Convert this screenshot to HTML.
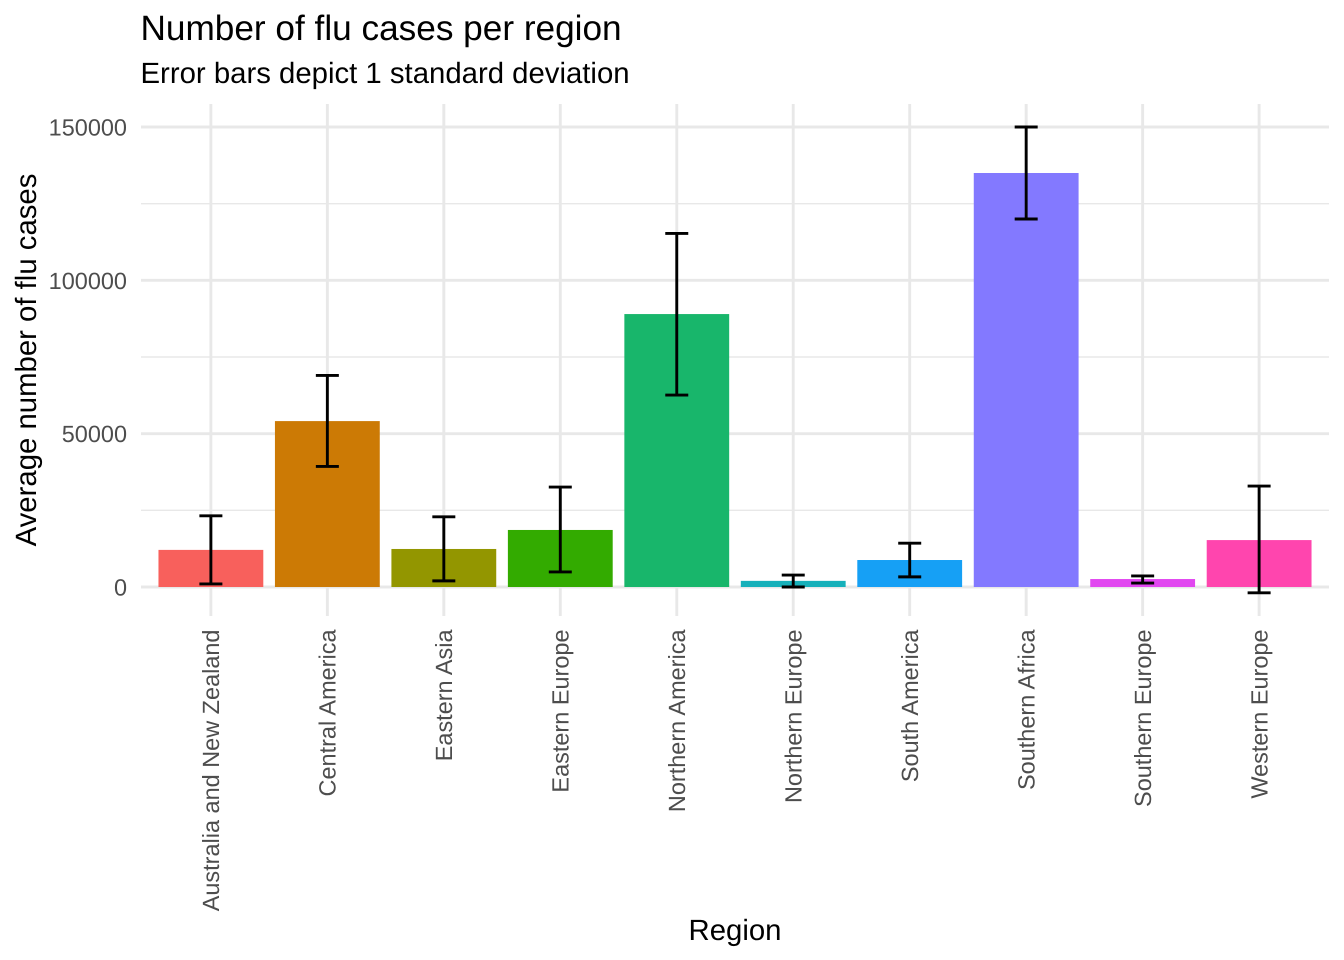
<!DOCTYPE html>
<html lang="en">
<head>
<meta charset="utf-8">
<title>Number of flu cases per region</title>
<style>
html,body{margin:0;padding:0;background:#fff;}
svg{display:block;font-family:"Liberation Sans",Arial,sans-serif;text-rendering:geometricPrecision;}
</style>
</head>
<body>
<svg id="chart" xmlns="http://www.w3.org/2000/svg" width="1344" height="960" viewBox="0 0 1344 960">
<rect x="0" y="0" width="1344" height="960" fill="#ffffff"/>
<g id="grid"></g>
<g id="bars"></g>
<g id="errors"></g>
<g id="ylabels"></g>
<g id="xlabels"></g>
<text x="140.5" y="40" font-size="35.2" fill="#000">Number of flu cases per region</text>
<text x="140.5" y="83" font-size="29.33" fill="#000">Error bars depict 1 standard deviation</text>
<text x="735" y="940" font-size="29.33" text-anchor="middle" fill="#000">Region</text>
<text transform="translate(36 360) rotate(-90)" font-size="29.33" text-anchor="middle" fill="#000">Average number of flu cases</text>
</svg>
<script>
const categories = ["Australia and New Zealand","Central America","Eastern Asia","Eastern Europe","Northern America","Northern Europe","South America","Southern Africa","Southern Europe","Western Europe"];
const means = [12100,54100,12400,18600,89000,2000,8800,135000,2600,15300];
const errorUpper = [23200,69000,22900,32600,115300,3900,14300,150000,3600,32900];
const errorLower = [1000,39300,2000,4900,62600,0,3300,120000,1300,-1900];
const barColors = ["#F8605C","#CC7A05","#939600","#33AB00","#18B66B","#16B0BA","#16A0F5","#8379FF","#E147F0","#FF45AE"];
const majorTicks = [0,50000,100000,150000];
const minorTicks = [25000,75000,125000];

const NS = "http://www.w3.org/2000/svg";
const panelLeft = 141, panelRight = 1329, panelTop = 104, panelBottom = 616;
const yZero = 587, yTop = 127, yMaxVal = 150000;
function yScale(v){ return yZero - (v / yMaxVal) * (yZero - yTop); }
const step = (panelRight - panelLeft) / (categories.length + 0.2);
function xScale(i){ return panelLeft + (i + 0.6) * step; }
const barWidth = step * 0.9;
const capWidth = 23;

function make(parent, tag, attrs){
  const el = document.createElementNS(NS, tag);
  for (const k in attrs) el.setAttribute(k, attrs[k]);
  document.getElementById(parent).appendChild(el);
  return el;
}

minorTicks.forEach(function(t){
  const el = make("grid", "line", {x1: panelLeft, x2: panelRight, y1: yScale(t), y2: yScale(t), stroke: "#E8E8E8", "stroke-width": 1.45});
  
  
});
majorTicks.forEach(function(t){
  const el = make("grid", "line", {x1: panelLeft, x2: panelRight, y1: yScale(t), y2: yScale(t), stroke: "#E8E8E8", "stroke-width": 2.9});
  
  
  const lab = make("ylabels", "text", {x: 127, y: yScale(t) + 8.5, "font-size": 23.47, "text-anchor": "end", fill: "#4D4D4D"});
  
  
  lab.textContent = String(t);
});
categories.forEach(function(c, i){
  const x = xScale(i);
  const g = make("grid", "line", {x1: x, x2: x, y1: panelTop, y2: panelBottom, stroke: "#E8E8E8", "stroke-width": 2.9});
  
  

  const bar = make("bars", "rect", {x: x - barWidth / 2, y: yScale(means[i]), width: barWidth, height: yZero - yScale(means[i]), fill: barColors[i]});
  
  

  const yu = yScale(errorUpper[i]), yl = yScale(errorLower[i]);
  const stem = make("errors", "line", {x1: x, x2: x, y1: yu, y2: yl, stroke: "#000", "stroke-width": 2.9});
  
  
  const capU = make("errors", "line", {x1: x - capWidth / 2, x2: x + capWidth / 2, y1: yu, y2: yu, stroke: "#000", "stroke-width": 2.9});
  
  
  const capL = make("errors", "line", {x1: x - capWidth / 2, x2: x + capWidth / 2, y1: yl, y2: yl, stroke: "#000", "stroke-width": 2.9});
  
  

  const lab = make("xlabels", "text", {transform: "translate(" + (x + 8.2) + " 629.5) rotate(-90)", "font-size": 23.47, "text-anchor": "end", fill: "#4D4D4D"});
  
  
  lab.textContent = c;
});
</script>
</body>
</html>
